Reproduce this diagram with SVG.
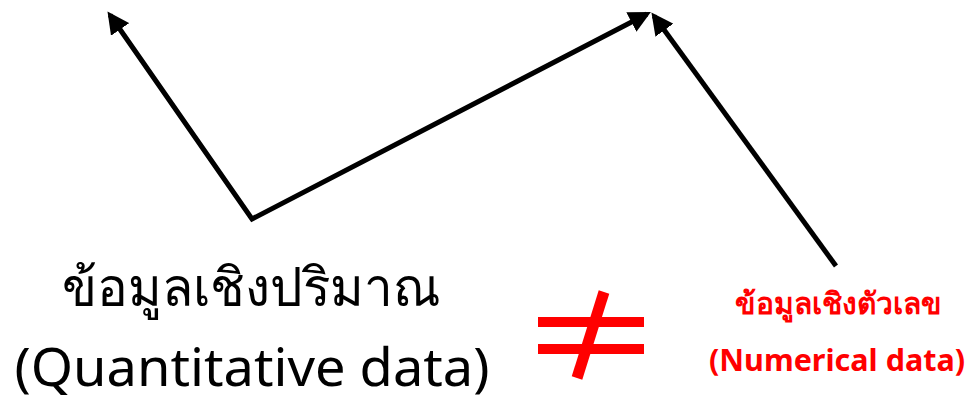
<svg xmlns="http://www.w3.org/2000/svg" width="968" height="408" viewBox="0 0 968 408">
<style>
.conn{fill:none;stroke:#000;stroke-width:5;stroke-linejoin:miter}
.big{font-family:"Noto Sans","Noto Sans CJK SC",sans-serif;font-size:53px;fill:#000;text-anchor:middle}
.red{font-family:"Noto Sans","Noto Sans CJK SC",sans-serif;font-size:30px;font-weight:bold;fill:#ff0000;text-anchor:middle}
</style>
<defs>
<marker id="ah" viewBox="0 0 10 10" refX="8" refY="5" markerWidth="4.4" markerHeight="4.4" orient="auto-start-reverse" markerUnits="strokeWidth">
<path d="M0,0 L10,5 L0,10 z" fill="#000"/>
</marker>
</defs>
<rect width="968" height="408" fill="#fff"/>
<g id="connectors">
<polyline class="conn" points="110,15 252,219 647,14" marker-start="url(#ah)" marker-end="url(#ah)"/>
<line class="conn" x1="836" y1="266" x2="654" y2="16" marker-end="url(#ah)"/>
</g>
<g id="quantitative">
<text class="big" x="251" y="306" textLength="378" lengthAdjust="spacingAndGlyphs">ข้อมูลเชิงปริมาณ</text>
<text class="big" x="252" y="386" textLength="475" lengthAdjust="spacingAndGlyphs">(Quantitative data)</text>
</g>
<g id="notequal" fill="#ff0000">
<rect x="538" y="317" width="106" height="10"/>
<rect x="538" y="344" width="106" height="10"/>
<line x1="604" y1="292" x2="577" y2="378" stroke="#ff0000" stroke-width="11"/>
</g>
<g id="numerical">
<text class="red" x="838" y="314" textLength="207" lengthAdjust="spacingAndGlyphs">ข้อมูลเชิงตัวเลข</text>
<text class="red" x="837" y="371" textLength="256" lengthAdjust="spacingAndGlyphs">(Numerical data)</text>
</g>
</svg>
